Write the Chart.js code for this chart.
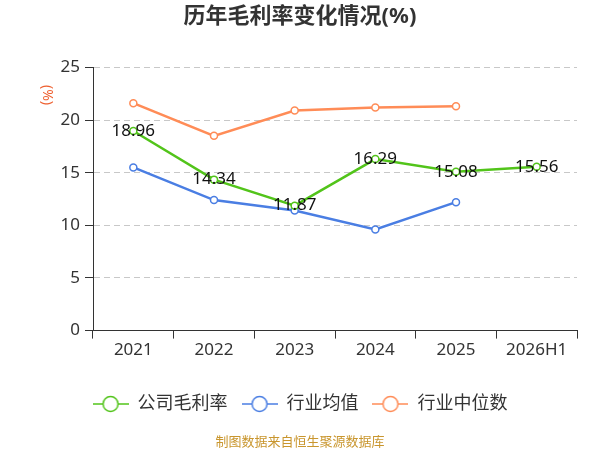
<!DOCTYPE html>
<html>
<head>
<meta charset="utf-8">
<script src="https://cdn.jsdelivr.net/npm/chart.js@4.4.1/dist/chart.umd.min.js"></script>
<style>
  html, body { margin: 0; padding: 0; background: #fff; }
  #wrap { width: 600px; height: 450px; }
</style>
</head>
<body>
<div id="wrap"><canvas id="margin-chart"></canvas></div>
<script>
// 历年毛利率变化情况 (%)
var years = ['2021', '2022', '2023', '2024', '2025', '2026H1'];
var companyMargin = [18.96, 14.34, 11.87, 16.29, 15.08, 15.56];
var industryAvg = [15.5, 12.4, 11.4, 9.6, 12.2, null];
var industryMedian = [21.6, 18.5, 20.9, 21.2, 21.3, null];
var yTicks = [0, 5, 10, 15, 20, 25];

var FONT = '"Noto Sans", "Noto Sans CJK SC", sans-serif';
var GREEN = '#52c41a', BLUE = '#4a7ee3', ORANGE = '#ff8c57';

function legendMark(color) {
  var c = document.createElement('canvas');
  c.width = 36; c.height = 18;
  var g = c.getContext('2d');
  g.strokeStyle = color;
  g.lineWidth = 1.5;
  g.beginPath(); g.moveTo(0, 9); g.lineTo(36, 9); g.stroke();
  g.beginPath(); g.arc(18, 9, 7.5, 0, Math.PI * 2);
  g.fillStyle = '#fff'; g.fill(); g.stroke();
  return c;
}
var marks = [legendMark(GREEN), legendMark(BLUE), legendMark(ORANGE)];

var extras = {
  id: 'extras',
  afterDatasetsDraw: function (chart) {
    var ctx = chart.ctx;
    var meta = chart.getDatasetMeta(0);
    ctx.save();
    ctx.font = '17px ' + FONT;
    ctx.fillStyle = '#111';
    ctx.textAlign = 'center';
    ctx.textBaseline = 'middle';
    meta.data.forEach(function (pt, i) {
      ctx.fillText(companyMargin[i].toFixed(2), pt.x, pt.y);
    });
    ctx.restore();
  },
  afterDraw: function (chart) {
    var ctx = chart.ctx;
    ctx.save();
    ctx.font = '14px ' + FONT;
    ctx.fillStyle = '#ee6030';
    ctx.translate(47, 95);
    ctx.rotate(Math.PI / 2);
    ctx.textAlign = 'center';
    ctx.textBaseline = 'middle';
    ctx.fillText('(%)', 0, 0);
    ctx.restore();
    ctx.save();
    ctx.font = '13px "Noto Sans CJK SC", sans-serif';
    ctx.fillStyle = '#c9962e';
    ctx.textAlign = 'center';
    ctx.textBaseline = 'middle';
    ctx.fillText('制图数据来自恒生聚源数据库', 300, 441);
    ctx.restore();
  }
};

new Chart(document.getElementById('margin-chart').getContext('2d'), {
  type: 'line',
  plugins: [extras],
  data: {
    labels: years,
    datasets: [
      { label: '公司毛利率', data: companyMargin, borderColor: GREEN, backgroundColor: '#fff' },
      { label: '行业均值', data: industryAvg, borderColor: BLUE, backgroundColor: '#fff' },
      { label: '行业中位数', data: industryMedian, borderColor: ORANGE, backgroundColor: '#fff' }
    ]
  },
  options: {
    responsive: true,
    maintainAspectRatio: false,
    animation: false,
    layout: { padding: { left: 23, right: 23, top: 0, bottom: 27 } },
    elements: {
      line: { borderWidth: 2.5, tension: 0 },
      point: { radius: 3.5, borderWidth: 1.5, pointStyle: 'circle' }
    },
    plugins: {
      title: {
        display: true,
        text: '历年毛利率变化情况(%)',
        color: '#333',
        font: { family: FONT, size: 22, weight: 'bold' },
        padding: { top: 4, bottom: 37 }
      },
      legend: {
        position: 'bottom',
        labels: {
          usePointStyle: true,
          pointStyleWidth: 36,
          boxHeight: 18,
          padding: 14,
          color: '#333',
          font: { family: FONT, size: 18 },
          generateLabels: function (chart) {
            return chart.data.datasets.map(function (ds, i) {
              return {
                text: ds.label,
                pointStyle: marks[i],
                fillStyle: '#fff',
                strokeStyle: ds.borderColor,
                fontColor: '#333',
                datasetIndex: i,
                hidden: false
              };
            });
          }
        }
      },
      tooltip: { enabled: false }
    },
    scales: {
      x: {
        offset: true,
        afterFit: function (scale) { scale.height += 20; },
        grid: { display: true, drawOnChartArea: false, drawTicks: true, tickLength: 8, color: '#333', offset: true },
        border: { display: true, color: '#333' },
        ticks: { color: '#333', padding: 1, font: { family: FONT, size: 17 } }
      },
      y: {
        min: 0,
        max: 25,
        afterFit: function (scale) { scale.width = 70; },
        afterBuildTicks: function (scale) {
          scale.ticks = yTicks.map(function (v) { return { value: v }; });
        },
        grid: { color: '#c8c8c8', tickLength: 8, tickColor: '#333', tickBorderDash: [] },
        border: { display: true, color: '#333', dash: [6, 4] },
        ticks: { color: '#333', padding: 5, font: { family: FONT, size: 17 } }
      }
    }
  }
});
</script>
</body>
</html>
